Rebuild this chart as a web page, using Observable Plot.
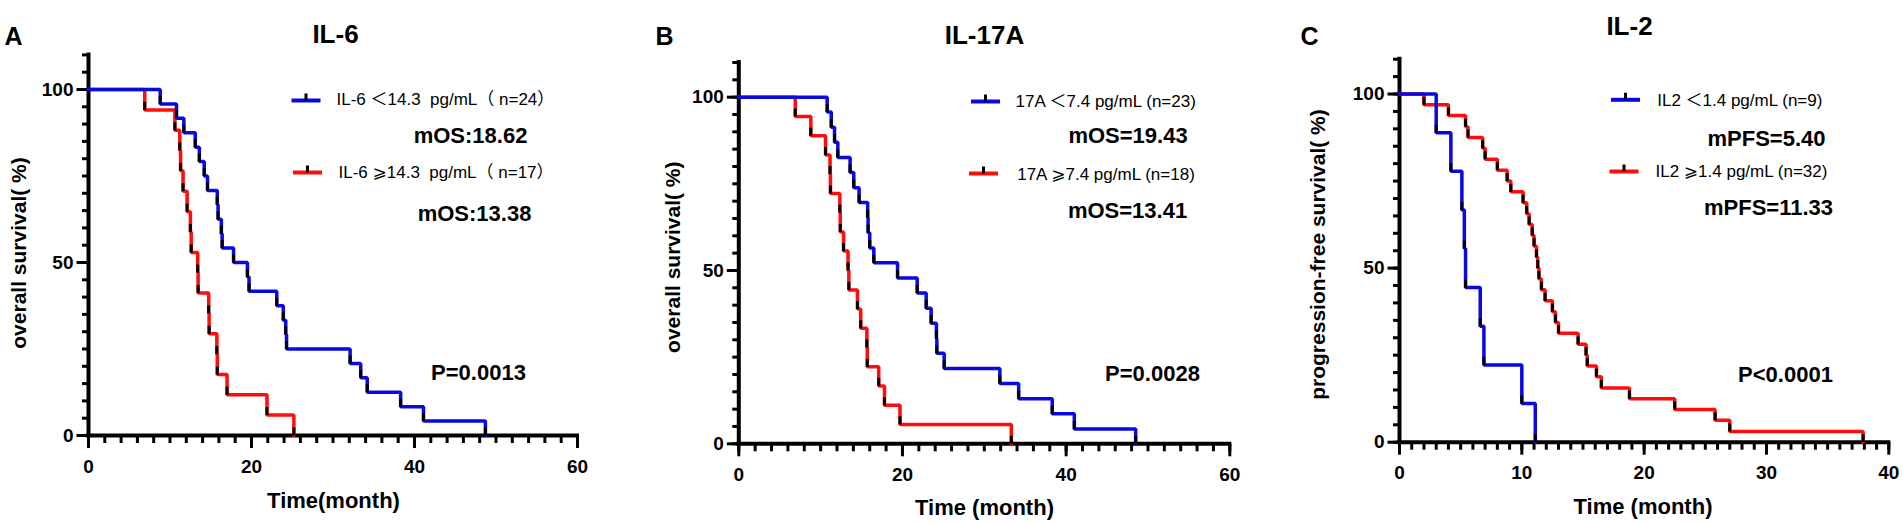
<!DOCTYPE html>
<html><head><meta charset="utf-8">
<script src="https://cdn.jsdelivr.net/npm/d3@7"></script>
<script src="https://cdn.jsdelivr.net/npm/@observablehq/plot@0.6"></script>
<style>
html,body{margin:0;padding:0;background:#fff;}
#row{display:flex;width:1902px;height:523px;overflow:hidden;}
#row svg{display:block;flex:none;}
</style></head><body><div id="row"></div>
<script>
// ---------- DATA ----------
// Panel A: IL-6
const il6LowTime  = [8.8, 10.8, 11.7, 13.1, 13.6, 14.2, 14.6, 15.8, 15.9, 16.3, 16.4, 17.8, 19.5, 19.7, 23.1, 23.9, 24.2, 24.3, 32.1, 33.4, 34.2, 38.3, 41.1, 48.7];
const il6LowSurv  = [95.8, 91.7, 87.5, 83.3, 79.2, 75.0, 70.8, 66.7, 62.5, 58.3, 54.2, 50.0, 45.8, 41.7, 37.5, 33.3, 29.2, 25.0, 20.8, 16.7, 12.5, 8.3, 4.2, 0];
const il6HighTime = [6.9, 10.6, 11.2, 11.3, 11.6, 12.1, 12.5, 12.6, 13.4, 13.45, 14.75, 14.8, 15.75, 15.8, 17.0, 21.9, 25.2];
const il6HighSurv = [94.1, 88.2, 82.4, 76.5, 70.6, 64.7, 58.8, 52.9, 47.1, 41.2, 35.3, 29.4, 23.5, 17.6, 11.8, 5.9, 0];
// Panel B: IL-17A
const il17LowTime  = [10.8, 11.3, 11.7, 12.1, 13.6, 14.05, 14.7, 15.75, 15.8, 16.0, 16.5, 19.4, 21.8, 22.9, 23.5, 24.15, 24.2, 25.1, 31.9, 34.2, 38.3, 41.0, 48.5];
const il17LowSurv  = [95.7, 91.3, 87.0, 82.6, 78.3, 73.9, 69.6, 65.2, 60.9, 56.5, 52.2, 47.8, 43.5, 39.1, 34.8, 30.4, 26.1, 21.7, 17.4, 13.0, 8.7, 4.3, 0];
const il17HighTime = [6.9, 8.8, 10.6, 11.15, 11.2, 12.35, 12.4, 12.8, 13.35, 13.45, 14.5, 14.9, 15.65, 15.7, 17.1, 17.8, 19.7, 33.3];
const il17HighSurv = [94.4, 88.9, 83.3, 77.8, 72.2, 66.7, 61.1, 55.6, 50.0, 44.4, 38.9, 33.3, 27.8, 22.2, 16.7, 11.1, 5.6, 0];
// Panel C: IL-2
const il2LowTime  = [3.0, 4.2, 5.1, 5.3, 5.4, 6.6, 6.9, 10.0, 11.1];
const il2LowSurv  = [88.9, 77.8, 66.7, 55.6, 44.4, 33.3, 22.2, 11.1, 0];
const il2HighTime = [2.0, 4.0, 5.4, 5.6, 6.8, 7.0, 8.0, 8.8, 9.1, 10.1, 10.4, 10.6, 10.85, 11.0, 11.2, 11.3, 11.4, 11.6, 11.9, 12.5, 12.75, 13.0, 14.6, 15.25, 15.35, 16.1, 16.5, 18.8, 22.5, 25.8, 27.0, 37.9];
const il2HighSurv = [96.9, 93.8, 90.6, 87.5, 84.4, 81.3, 78.1, 75.0, 71.9, 68.8, 65.6, 62.5, 59.4, 56.3, 53.1, 50.0, 46.9, 43.8, 40.6, 37.5, 34.4, 31.3, 28.1, 25.0, 21.9, 18.8, 15.6, 12.5, 9.4, 6.3, 3.1, 0];

// tick labels
const xTicksAB = [0, 20, 40, 60];
const xTicksC  = [0, 10, 20, 30, 40];
const yTicks   = [0, 50, 100];

// texts
const panelLetters = ["A", "B", "C"];
const panelTitles  = ["IL-6", "IL-17A", "IL-2"];
const yTitles = ["overall survival( %)", "overall survival( %)", "progression-free survival( %)"];
const xTitles = ["Time(month)", "Time (month)", "Time (month)"];
const lowLabels  = ["IL-6 ＜14.3  pg/mL（ n=24）", "17A ＜7.4 pg/mL (n=23)", "IL2 ＜1.4 pg/mL (n=9)"];
const highLabels = ["IL-6 ⩾14.3  pg/mL（ n=17）", "17A ⩾7.4 pg/mL (n=18)", "IL2 ⩾1.4 pg/mL (n=32)"];
const lowMedians  = ["mOS:18.62", "mOS=19.43", "mPFS=5.40"];
const highMedians = ["mOS:13.38", "mOS=13.41", "mPFS=11.33"];
const pValues = ["P=0.0013", "P=0.0028", "P<0.0001"];

// ---------- STYLE / LAYOUT ----------
const BLUE = "#0a0ae0", RED = "#ff0d0d";
const FONT = '"Liberation Sans", Arial, "Noto Sans CJK SC", "DejaVu Sans", sans-serif';
const sym = (f) => ({draw(c, s) { f(c, Math.sqrt(s / Math.PI)); }});
const vUp   = sym((c, r) => { c.moveTo(0, 0); c.lineTo(0, -r); });
const vDown = sym((c, r) => { c.moveTo(0, 0); c.lineTo(0, r); });
const hLeft = sym((c, r) => { c.moveTo(0, 0); c.lineTo(-r, 0); });
const hLine = sym((c, r) => { c.moveTo(-r, 0); c.lineTo(r, 0); });

const layouts = [
  {L: 0,    W: 630, ml: 88,    mr: 53,   mt: 54.4, mb: 88,   xDomain: [0, 60], xMinorStep: 2, xTicks: xTicksAB,
   letter: [4, 36], title: [335, 34.5], legLow: [305.5, 100, 336, 99.5], legHigh: [307, 172, 338, 172],
   medLow: [470, 135.5], medHigh: [474, 213], p: [478, 372.5], yTitle: [19, 252.5], xTitle: [333, 500]},
  {L: 630,  W: 640, ml: 108.3, mr: 40.7, mt: 62,   mb: 79.7, xDomain: [0, 60], xMinorStep: 2, xTicks: xTicksAB,
   letter: [655, 36.5], title: [984, 35], legLow: [985, 101, 1015, 101], legHigh: [983, 173, 1016.7, 174],
   medLow: [1127.5, 135.8], medHigh: [1127, 210], p: [1152, 373.5], yTitle: [672.5, 256.7], xTitle: [984, 507]},
  {L: 1270, W: 632, ml: 129,   mr: 13.7, mt: 58.7, mb: 81.3, xDomain: [0, 40], xMinorStep: 1, xTicks: xTicksC,
   letter: [1300, 36], title: [1629, 26], legLow: [1625, 99.3, 1656.7, 100], legHigh: [1623.5, 171, 1655, 171],
   medLow: [1766, 138.8], medHigh: [1768, 207], p: [1785, 374], yTitle: [1318, 254], xTitle: [1642.5, 506]}
];
const series = [
  [[il6LowTime, il6LowSurv], [il6HighTime, il6HighSurv]],
  [[il17LowTime, il17LowSurv], [il17HighTime, il17HighSurv]],
  [[il2LowTime, il2LowSurv], [il2HighTime, il2HighSurv]]
];
const yDomain = [0, 110];

function makePanel(i) {
  const c = layouts[i];
  const at = (px, py) => ({frameAnchor: "top-left", dx: px - c.L - c.ml, dy: py - c.mt});
  const txt = (s, px, py, o = {}) => Plot.text([s], {text: d => d, ...at(px, py), textAnchor: "middle", lineAnchor: "middle", fill: "black", ...o});
  const xMinor = d3.range(c.xDomain[0], c.xDomain[1] + 1e-9, c.xMinorStep);
  const yMinor = d3.range(yDomain[0], yDomain[1] + 1e-9, 5);
  const [[lt, ls], [ht, hs]] = series[i];
  const rows = (t, s) => [{t: 0, s: 100}, ...t.map((v, k) => ({t: v, s: s[k]}))];
  const low = rows(lt, ls), high = rows(ht, hs);
  const lowEv = low.slice(1), highEv = high.slice(1);
  const marks = [
    // axes
    Plot.ruleY([yDomain[0]], {x1: c.xDomain[0], x2: c.xDomain[1], stroke: "black", strokeWidth: 4, strokeLinecap: "square"}),
    Plot.ruleX([c.xDomain[0]], {y1: yDomain[0], y2: yDomain[1], stroke: "black", strokeWidth: 4, strokeLinecap: "square"}),
    Plot.dot(xMinor, {x: d => d, y: yDomain[0], symbol: vDown, r: 7.5, stroke: "black", strokeWidth: 3, fill: "none"}),
    Plot.dot(c.xTicks, {x: d => d, y: yDomain[0], symbol: vDown, r: 12.5, stroke: "black", strokeWidth: 3, fill: "none"}),
    Plot.dot(yMinor, {x: c.xDomain[0], y: d => d, symbol: hLeft, r: 6.5, stroke: "black", strokeWidth: 3, fill: "none"}),
    Plot.dot(yTicks, {x: c.xDomain[0], y: d => d, symbol: hLeft, r: 12, stroke: "black", strokeWidth: 3, fill: "none"}),
    Plot.text(c.xTicks, {x: d => d, y: yDomain[0], text: d => String(d), dy: 31, textAnchor: "middle", lineAnchor: "middle", fontSize: 19, fontWeight: "bold", fill: "black"}),
    Plot.text(yTicks, {x: c.xDomain[0], y: d => d, text: d => String(d), dx: -15, textAnchor: "end", lineAnchor: "middle", fontSize: 19, fontWeight: "bold", fill: "black"}),
    // curves
    Plot.line(high, {x: "t", y: "s", curve: "step-after", stroke: RED, strokeWidth: 3.5, strokeLinejoin: "miter"}),
    Plot.line(low,  {x: "t", y: "s", curve: "step-after", stroke: BLUE, strokeWidth: 3.5, strokeLinejoin: "miter"}),
    Plot.dot(highEv, {x: "t", y: "s", symbol: vUp, r: 8, stroke: "black", strokeWidth: 3, fill: "none"}),
    Plot.dot(lowEv,  {x: "t", y: "s", symbol: vUp, r: 8, stroke: "black", strokeWidth: 3, fill: "none"}),
    // legend
    Plot.dot([0], {...at(c.legLow[0], c.legLow[1]), symbol: hLine, r: 14.5, stroke: BLUE, strokeWidth: 4, fill: "none"}),
    Plot.dot([0], {...at(c.legLow[0], c.legLow[1]), symbol: vUp, r: 7, stroke: "black", strokeWidth: 3, fill: "none"}),
    Plot.dot([0], {...at(c.legHigh[0], c.legHigh[1]), symbol: hLine, r: 14.5, stroke: RED, strokeWidth: 4, fill: "none"}),
    Plot.dot([0], {...at(c.legHigh[0], c.legHigh[1]), symbol: vUp, r: 7, stroke: "black", strokeWidth: 3, fill: "none"}),
    txt(lowLabels[i], c.legLow[2], c.legLow[3], {textAnchor: "start", fontSize: 17}),
    txt(highLabels[i], c.legHigh[2], c.legHigh[3], {textAnchor: "start", fontSize: 17}),
    txt(lowMedians[i], c.medLow[0], c.medLow[1], {fontSize: 22, fontWeight: "bold"}),
    txt(highMedians[i], c.medHigh[0], c.medHigh[1], {fontSize: 22, fontWeight: "bold"}),
    txt(pValues[i], c.p[0], c.p[1], {fontSize: 22, fontWeight: "bold"}),
    // titles
    txt(panelLetters[i], c.letter[0], c.letter[1], {textAnchor: "start", fontSize: 25, fontWeight: "bold"}),
    txt(panelTitles[i], c.title[0], c.title[1], {fontSize: 26, fontWeight: "bold"}),
    txt(yTitles[i], c.yTitle[0], c.yTitle[1], {rotate: -90, fontSize: 21, fontWeight: "bold"}),
    txt(xTitles[i], c.xTitle[0], c.xTitle[1], {fontSize: 22, fontWeight: "bold"})
  ];
  return Plot.plot({
    width: c.W, height: 523,
    marginLeft: c.ml, marginRight: c.mr, marginTop: c.mt, marginBottom: c.mb,
    x: {domain: c.xDomain, axis: null},
    y: {domain: yDomain, axis: null},
    style: {background: "white", color: "black", fontFamily: FONT, overflow: "visible"},
    marks
  });
}
const row = document.getElementById("row");
for (let i = 0; i < 3; i++) row.appendChild(makePanel(i));
</script>
</body></html>
